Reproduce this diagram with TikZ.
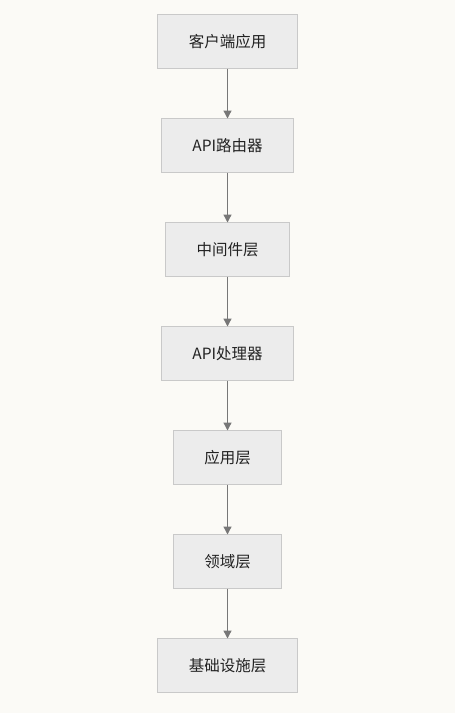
\documentclass[tikz,border=0pt]{standalone}
\usepackage{fontspec}
\setmainfont{Noto Sans CJK SC}
\usepackage{tikz}
\usetikzlibrary{arrows.meta, positioning}
\definecolor{bgpaper}{HTML}{FBFAF6}
\definecolor{boxfill}{HTML}{ECECEC}
\definecolor{boxline}{HTML}{C9C9C9}
\definecolor{arrowgray}{HTML}{777777}
\definecolor{textgray}{HTML}{222222}

\begin{document}
\begin{tikzpicture}[
  node distance=50pt,
  every node/.style={draw=boxline, fill=boxfill, line width=1.4pt, align=center, outer sep=0pt,
    minimum height=54pt, inner xsep=31pt, text=textgray, font=\fontsize{15.5pt}{18pt}\selectfont},
  arrow/.style={-{Triangle[length=8pt, width=8pt]}, arrowgray, line width=1.3pt}
]
\fill [bgpaper] (0,0) rectangle (455pt,-713pt);
\useasboundingbox (0,0) rectangle (455pt,-713pt);

\node (client) at (227.5pt,-41.5pt) {客户端应用};
\node (router) [below=of client] {API路由器};
\node (middle) [below=of router] {中间件层};
\node (handler) [below=of middle] {API处理器};
\node (app) [below=of handler] {应用层};
\node (domain) [below=of app] {领域层};
\node (infra) [below=of domain] {基础设施层};

\draw [arrow] (client) -- (router);
\draw [arrow] (router) -- (middle);
\draw [arrow] (middle) -- (handler);
\draw [arrow] (handler) -- (app);
\draw [arrow] (app) -- (domain);
\draw [arrow] (domain) -- (infra);
\end{tikzpicture}
\end{document}
